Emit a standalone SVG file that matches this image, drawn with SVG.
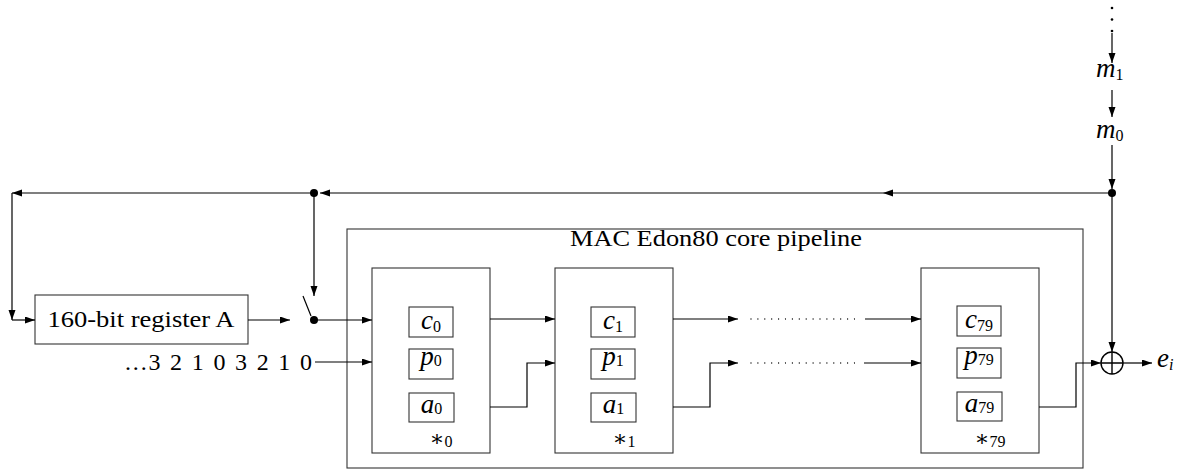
<svg xmlns="http://www.w3.org/2000/svg" width="1180" height="473" viewBox="0 0 1180 473">
<style>
.ln{stroke:#000;stroke-width:1.2;fill:none}
.bx{fill:#fff;stroke:#333;stroke-width:1.1}
.dot{fill:#000}
.t{font-family:"Liberation Serif","DejaVu Serif",serif;font-size:24px;fill:#000}
.m{font-family:"Liberation Serif","DejaVu Serif",serif;font-size:27px;font-style:italic;fill:#000}
.s{font-style:normal;font-size:16px}
.si{font-style:italic;font-size:16px}
.ast{font-family:"DejaVu Serif",serif;font-size:22px;fill:#000}
.dots{stroke:#000;stroke-width:1.3;stroke-linecap:round;stroke-dasharray:0 6.9;fill:none}
</style>
<defs>
<marker id="ar" markerUnits="userSpaceOnUse" markerWidth="11" markerHeight="8" refX="10" refY="3.5" orient="auto">
<path d="M0,0 L10,3.5 L0,7 z" fill="#000"/>
</marker>
</defs>

<g id="pipeline">
<rect class="bx" x="347" y="229" width="736" height="239"/>
<text class="t" x="570" y="246" textLength="292" lengthAdjust="spacingAndGlyphs" style="font-size:23px">MAC Edon80 core pipeline</text>
</g>

<g id="register">
<rect class="bx" x="35" y="295" width="213" height="49"/>
<text class="t" x="141" y="327" text-anchor="middle" textLength="187" lengthAdjust="spacingAndGlyphs">160-bit register A</text>
</g>

<g id="counter">
<text class="t" x="312" y="370" text-anchor="end" textLength="187" lengthAdjust="spacing">...3 2 1 0 3 2 1 0</text>
</g>

<g id="stage0">
<rect class="bx" x="372" y="268" width="118" height="185"/>
<rect class="bx" x="409" y="307" width="44" height="30"/>
<text class="m" x="431" y="329" text-anchor="middle">c<tspan class="s" dy="3">0</tspan></text>
<rect class="bx" x="409" y="349" width="44" height="30"/>
<text class="m" x="431" y="365" text-anchor="middle">p<tspan class="s" dy="1">0</tspan></text>
<rect class="bx" x="409" y="393" width="45" height="29"/>
<text class="m" x="431.5" y="413" text-anchor="middle">a<tspan class="s" dy="1">0</tspan></text>
<text class="ast" x="441" y="446" text-anchor="middle">∗<tspan class="t s" dy="1">0</tspan></text>
</g>

<g id="stage1">
<rect class="bx" x="555" y="268" width="118" height="185"/>
<rect class="bx" x="591" y="307" width="44" height="30"/>
<text class="m" x="613" y="329" text-anchor="middle">c<tspan class="s" dy="3">1</tspan></text>
<rect class="bx" x="591" y="349" width="44" height="30"/>
<text class="m" x="613" y="365" text-anchor="middle">p<tspan class="s" dy="1">1</tspan></text>
<rect class="bx" x="591" y="393" width="45" height="29"/>
<text class="m" x="613.5" y="413" text-anchor="middle">a<tspan class="s" dy="1">1</tspan></text>
<text class="ast" x="624" y="446" text-anchor="middle">∗<tspan class="t s" dy="1">1</tspan></text>
</g>

<g id="stage79">
<rect class="bx" x="921" y="268" width="118" height="185"/>
<rect class="bx" x="957" y="306" width="44" height="30"/>
<text class="m" x="979" y="328" text-anchor="middle">c<tspan class="s" dy="3">79</tspan></text>
<rect class="bx" x="957" y="348" width="44" height="30"/>
<text class="m" x="979" y="364" text-anchor="middle">p<tspan class="s" dy="1">79</tspan></text>
<rect class="bx" x="957" y="392" width="45" height="29"/>
<text class="m" x="979.5" y="412" text-anchor="middle">a<tspan class="s" dy="1">79</tspan></text>
<text class="ast" x="990" y="446" text-anchor="middle">∗<tspan class="t s" dy="1">79</tspan></text>
</g>

<g id="xor">
<circle cx="1112" cy="363" r="11" fill="#fff" stroke="#000" stroke-width="1.4"/>
<path class="ln" d="M1101,363 H1123 M1112,352 V374" style="stroke-width:1.4"/>
</g>

<g id="inputs">
<circle class="dot" cx="1112" cy="8" r="1.3"/>
<circle class="dot" cx="1112" cy="19.5" r="1.3"/>
<circle class="dot" cx="1112" cy="31" r="1.3"/>
<text class="m" x="1096" y="77">m<tspan class="s" dy="3">1</tspan></text>
<text class="m" x="1096" y="138">m<tspan class="s" dy="3">0</tspan></text>
</g>

<g id="output">
<text class="m" x="1157" y="367">e<tspan class="si" dy="3">i</tspan></text>
</g>

<g id="connectors">
<path class="ln" d="M1112,33 V63" marker-end="url(#ar)"/>
<path class="ln" d="M1112,90 V117" marker-end="url(#ar)"/>
<path class="ln" d="M1112,145 V189" marker-end="url(#ar)"/>
<circle class="dot" cx="1112" cy="193" r="4"/>
<path class="ln" d="M1112,193 V352" marker-end="url(#ar)"/>
<path class="ln" d="M1112,193 H883" marker-end="url(#ar)"/>
<path class="ln" d="M883,193 H320" marker-end="url(#ar)"/>
<circle class="dot" cx="314" cy="193" r="4"/>
<path class="ln" d="M314,193 H12" marker-end="url(#ar)"/>
<path class="ln" d="M12,193 V320" marker-end="url(#ar)"/>
<path class="ln" d="M12,320 H35" marker-end="url(#ar)"/>
<path class="ln" d="M314,193 V296" marker-end="url(#ar)"/>
<path class="ln" d="M248,320 H290" marker-end="url(#ar)"/>
<path class="ln" d="M303,296 L311,316"/>
<circle class="dot" cx="314" cy="320" r="4"/>
<path class="ln" d="M314,320 H372" marker-end="url(#ar)"/>
<path class="ln" d="M315,362 H372" marker-end="url(#ar)"/>
<path class="ln" d="M490,319 H555" marker-end="url(#ar)"/>
<path class="ln" d="M490,407 H527 V363 H555" marker-end="url(#ar)"/>
<path class="ln" d="M673,319 H738" marker-end="url(#ar)"/>
<path class="ln" d="M673,407 H710 V363 H738" marker-end="url(#ar)"/>
<path class="dots" d="M751,319 H855 M751,363 H855"/>
<path class="ln" d="M865,319 H921" marker-end="url(#ar)"/>
<path class="ln" d="M864,363 H921" marker-end="url(#ar)"/>
<path class="ln" d="M1039,407 H1076 V363 H1101" marker-end="url(#ar)"/>
<path class="ln" d="M1123,363 H1152" marker-end="url(#ar)"/>
</g>
</svg>
